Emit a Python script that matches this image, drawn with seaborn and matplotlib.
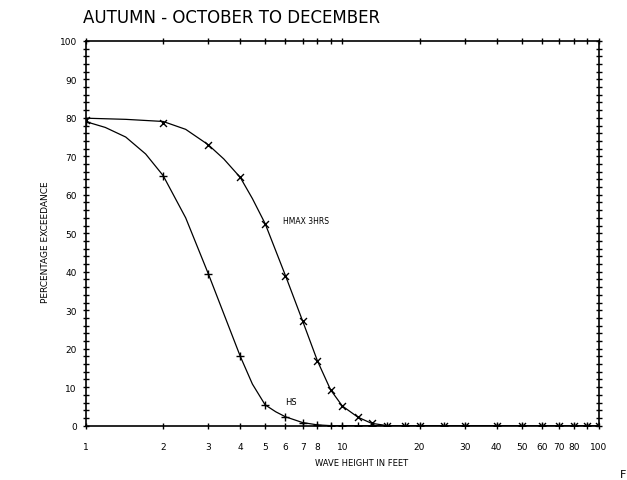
import numpy as np
import pandas as pd
import seaborn as sns
import matplotlib.pyplot as plt
from matplotlib.ticker import FixedLocator, NullFormatter, MultipleLocator

# plotted points (wave height in feet, percentage exceedance)
height = [1, 2, 3, 4, 5, 6, 7, 8, 9, 10, 11.5, 13, 15, 17.5, 20, 25, 30,
          40, 50, 60, 70, 80, 90, 100]
hs = [79, 65, 39.5, 18, 5.4, 2.3, 0.8, 0.2, 0, 0, 0, 0, 0, 0, 0, 0, 0,
      0, 0, 0, 0, 0, 0, 0]
hmax = [79.5, 78.7, 73, 64.5, 52.5, 39, 27.2, 16.8, 9.3, 5.1, 2.2, 0.6, 0, 0,
        0, 0, 0, 0, 0, 0, 0, 0, 0, 0]

hs_curve_height = [1, 1.19, 1.43, 1.71, 2, 2.45, 3, 4, 4.46, 5, 5.5, 6, 7, 8, 9, 10, 100]
hs_curve = [79, 77.5, 75, 70.6, 65, 54, 39.5, 18, 10.8, 5.4, 3.6, 2.3, 0.8, 0.2, 0, 0, 0]
hmax_curve_height = [1, 1.43, 2, 2.45, 3, 3.45, 4, 4.46, 5, 6, 7, 8, 9, 10, 11.5, 13, 15, 100]
hmax_curve = [79.9, 79.6, 79.05, 77, 73, 69.3, 64.5, 59, 52.5, 39, 27.2, 16.8, 9.3, 5.1,
              2.2, 0.6, 0, 0]

x_ticks = [1, 2, 3, 4, 5, 6, 7, 8, 9, 10, 20, 30, 40, 50, 60, 70, 80, 90, 100]
x_labels = ['1', '2', '3', '4', '5', '6', '7', '8', '', '10',
            '20', '30', '40', '50', '60', '70', '80', '', '100']

pts = pd.DataFrame({'height': height, 'HS': hs, 'HMAX': hmax})

sns.set_style('white')
plt.rcParams['font.family'] = ['DejaVu Sans']
plt.rcParams['text.color'] = 'black'
plt.rcParams['xtick.color'] = 'black'
plt.rcParams['ytick.color'] = 'black'

fig = plt.figure(figsize=(6.27, 4.81), dpi=100)
ax = fig.add_axes([0.137, 0.113, 0.818, 0.8])

# curves
sns.lineplot(x=hs_curve_height, y=hs_curve, ax=ax, color='black', lw=0.9)
sns.lineplot(x=hmax_curve_height, y=hmax_curve, ax=ax, color='black', lw=0.9)

# markers
sns.scatterplot(data=pts, x='height', y='HS', ax=ax, marker='+', s=36,
                color='black', linewidth=1.0, zorder=3)
sns.scatterplot(data=pts, x='height', y='HMAX', ax=ax, marker='x', s=25,
                color='black', linewidth=1.0, zorder=3)

ax.set_xscale('log')
ax.set_xlim(1, 100)
ax.set_ylim(0, 100)

ax.xaxis.set_major_locator(FixedLocator(x_ticks))
ax.set_xticklabels(x_labels)
ax.xaxis.set_minor_formatter(NullFormatter())
ax.xaxis.set_minor_locator(FixedLocator([]))
ax.yaxis.set_major_locator(MultipleLocator(10))
ax.yaxis.set_minor_locator(MultipleLocator(2))

ax.tick_params(axis='both', which='both', direction='inout', length=5, width=1,
               color='black', top=True, right=True, left=True, bottom=True,
               labelsize=6.5, labelcolor='black')
ax.tick_params(axis='x', pad=9)
ax.tick_params(axis='y', pad=4)

for s in ax.spines.values():
    s.set_linewidth(1.2)
    s.set_color('black')

ax.set_xlabel('')
ax.set_ylabel('')

ax.text(5.86, 53.2, 'HMAX 3HRS', fontsize=5.5, va='center', ha='left')
ax.text(6.3, 6.4, 'HS', fontsize=6, va='center', ha='center')

fig.text(0.132, 0.962, 'AUTUMN - OCTOBER TO DECEMBER', fontsize=12, va='center', ha='left')
fig.text(0.576, 0.037, 'WAVE HEIGHT IN FEET', fontsize=6, va='center', ha='center')
fig.text(0.072, 0.497, 'PERCENTAGE EXCEEDANCE', fontsize=6.5, va='center', ha='center',
         rotation=90)
fig.text(0.993, 0.0125, 'F', fontsize=8, va='center', ha='center')

fig.savefig('out.png', dpi=100)
